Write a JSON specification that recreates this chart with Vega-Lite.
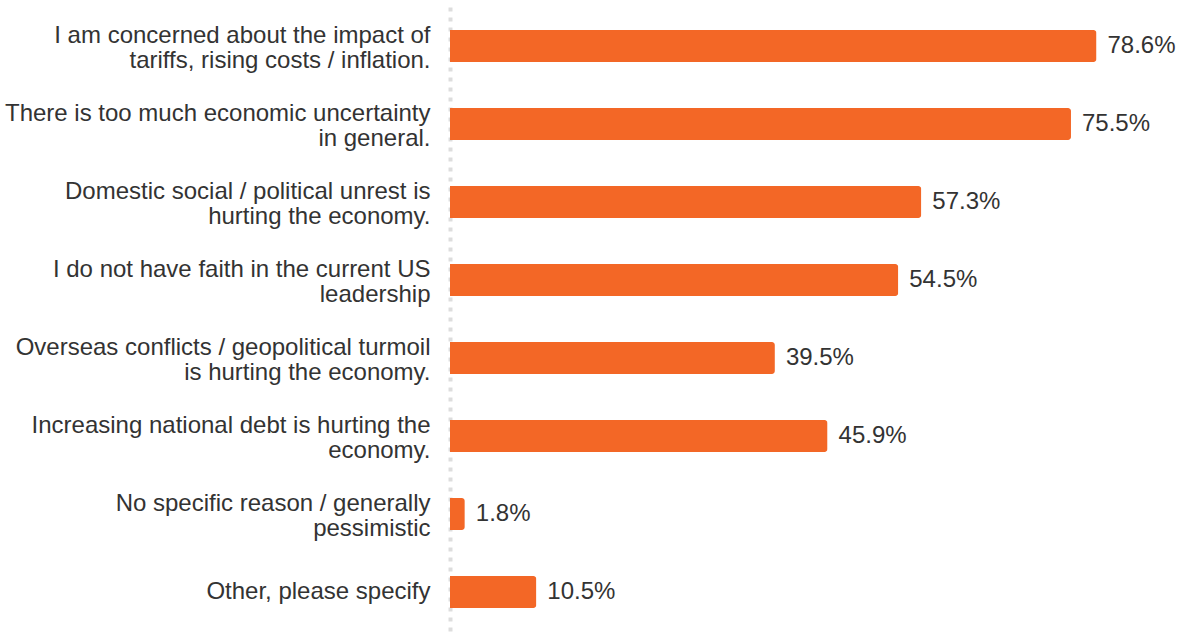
{
  "$schema": "https://vega.github.io/schema/vega-lite/v6.json",
  "width": 658,
  "height": 624,
  "autosize": {"type": "none"},
  "padding": {"left": 450, "top": 7, "right": 77, "bottom": 3},
  "background": "white",
  "config": {"view": {"stroke": null}, "font": "Liberation Sans"},
  "data": {
    "values": [
      {"label": "I am concerned about the impact of|tariffs, rising costs / inflation.", "value": 78.6},
      {"label": "There is too much economic uncertainty|in general.", "value": 75.5},
      {"label": "Domestic social / political unrest is|hurting the economy.", "value": 57.3},
      {"label": "I do not have faith in the current US|leadership", "value": 54.5},
      {"label": "Overseas conflicts / geopolitical turmoil|is hurting the economy.", "value": 39.5},
      {"label": "Increasing national debt is hurting the|economy.", "value": 45.9},
      {"label": "No specific reason / generally|pessimistic", "value": 1.8},
      {"label": "Other, please specify", "value": 10.5}
    ]
  },
  "encoding": {
    "y": {
      "field": "label",
      "type": "nominal",
      "sort": null,
      "scale": {"paddingInner": 0.59, "paddingOuter": 0.295},
      "axis": {
        "title": null,
        "ticks": false,
        "labelExpr": "split(datum.label, '|')",
        "labelFont": "Liberation Sans",
        "labelFontSize": 24,
        "labelColor": "#333333",
        "labelLineHeight": 25.5,
        "labelPadding": 20,
        "labelLimit": 460,
        "labelOffset": {"condition": {"test": "indexof(datum.value, '|') >= 0", "value": -10.5}, "value": 0},
        "domainColor": "#dddddd",
        "domainWidth": 4,
        "domainDash": [4, 6],
        "grid": false
      }
    },
    "x": {
      "field": "value",
      "type": "quantitative",
      "scale": {"domain": [0, 80], "nice": false},
      "axis": null
    }
  },
  "layer": [
    {"mark": {"type": "bar", "color": "#F36726", "cornerRadiusEnd": 3}},
    {
      "transform": [{"calculate": "format(datum.value, '.1f') + '%'", "as": "txt"}],
      "mark": {"type": "text", "align": "left", "baseline": "middle", "dx": 11, "fontSize": 24, "color": "#333333", "font": "Liberation Sans"},
      "encoding": {"text": {"field": "txt", "type": "nominal"}}
    }
  ]
}
